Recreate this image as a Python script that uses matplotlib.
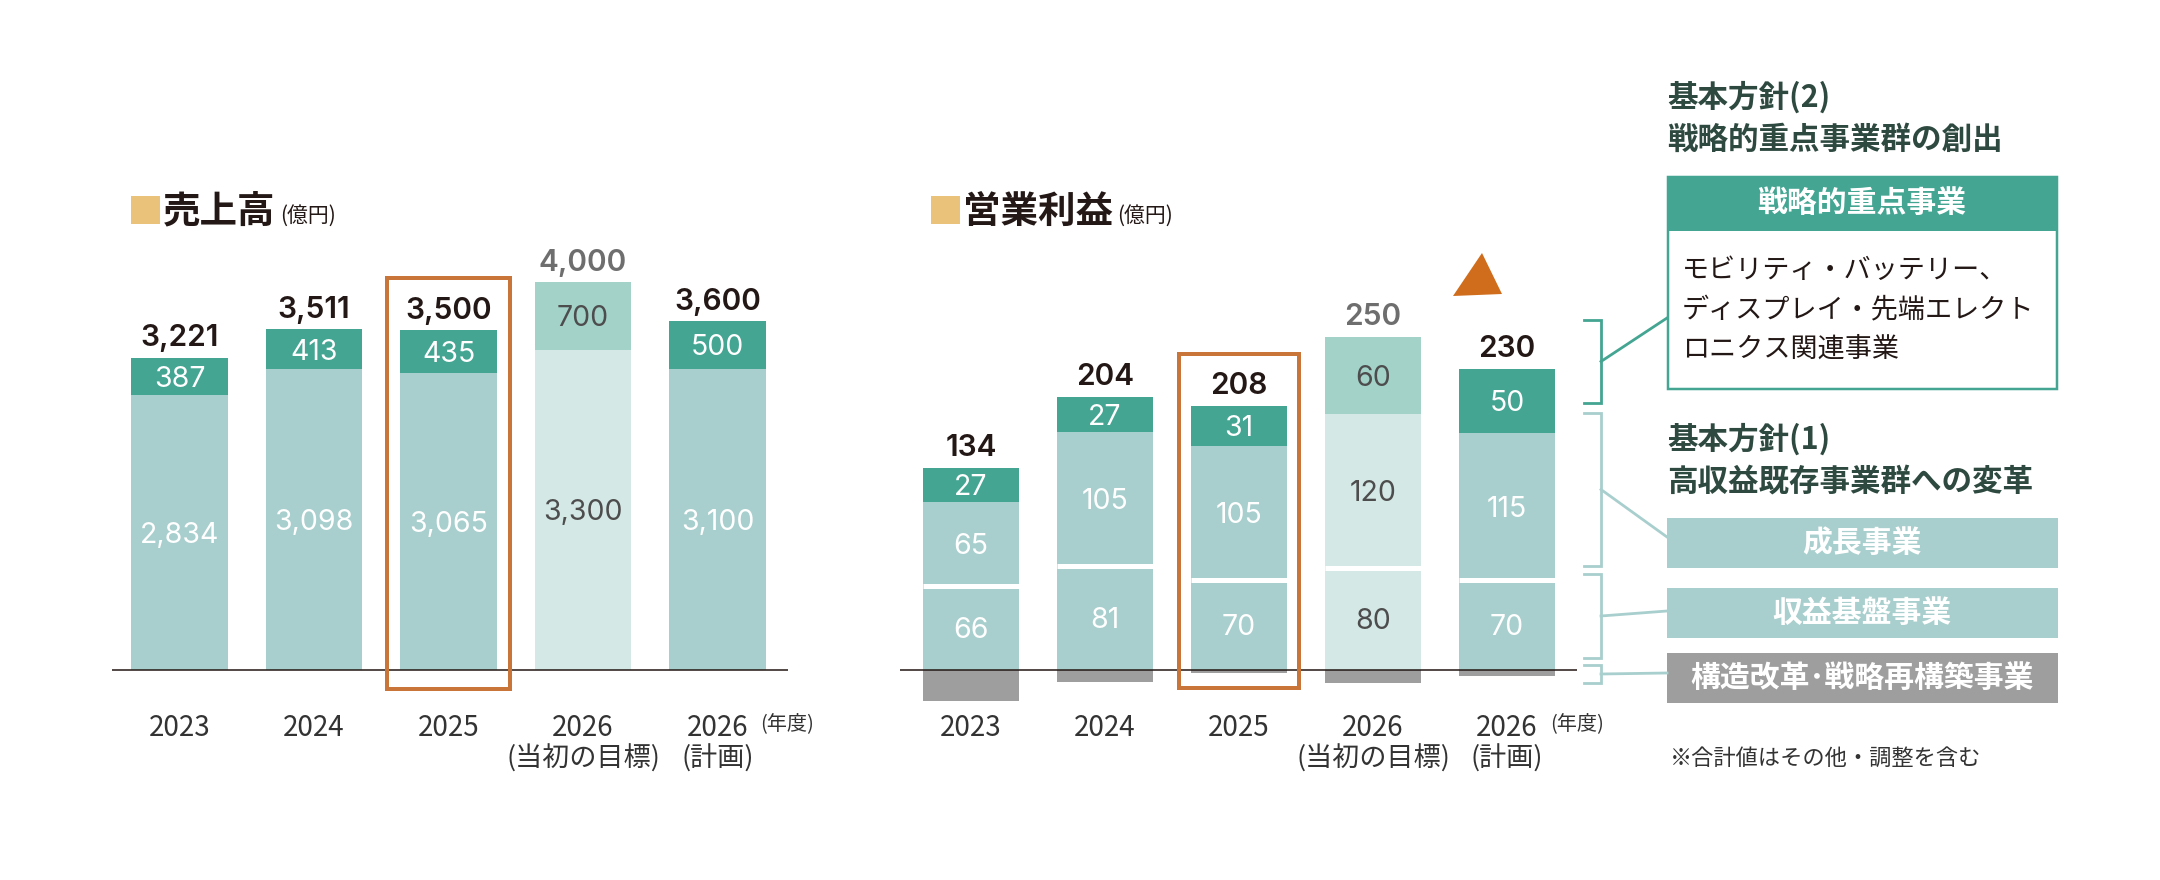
import matplotlib
matplotlib.use('Agg')
import matplotlib.pyplot as plt
from matplotlib.patches import Rectangle, Polygon

plt.rcParams['font.family'] = ['Inter', 'Noto Sans CJK JP', 'DejaVu Sans']
JP = ['Noto Sans CJK JP', 'DejaVu Sans']

# ---- data ----
years = ['2023', '2024', '2025', '2026', '2026']
year_notes = ['', '', '', '(当初の目標)', '(計画)']

sales_existing = [2834, 3098, 3065, 3300, 3100]
sales_focus = [387, 413, 435, 700, 500]
sales_total = [3221, 3511, 3500, 4000, 3600]

op_base = [66, 81, 70, 80, 70]          # 収益基盤事業
op_growth = [65, 105, 105, 120, 115]    # 成長事業
op_focus = [27, 27, 31, 60, 50]         # 戦略的重点事業
op_other = [-24, -9, -2, -10, -5]       # 構造改革・その他
op_total = [134, 204, 208, 250, 230]

target_idx = 3    # 当初の目標 (pale bars)
current_idx = 2   # 2025 highlighted

strategy2_lines = ['モビリティ・バッテリー、', 'ディスプレイ・先端エレクト', 'ロニクス関連事業']
segment_boxes = ['成長事業', '収益基盤事業', '構造改革･戦略再構築事業']

# ---- style ----
TEAL = '#43a592'
LIGHT = '#a8cfcd'
PALE = '#d4e8e5'
PALE_TOP = '#a3d2c9'
GRAY = '#9e9e9e'
ORANGE = '#c97539'
DARK = '#231815'
MIDGRAY = '#4d4d4d'
HEAD = '#2e4a40'

W, H = 2160, 880
BASE_Y = 670          # baseline, pixels from top
PT = 0.72             # px -> pt at dpi 100

fig = plt.figure(figsize=(W / 100, H / 100), dpi=100)

ov = fig.add_axes([0, 0, 1, 1])
ov.set_xlim(0, W)
ov.set_ylim(H, 0)
ov.axis('off')


def make_ax(x0, x1, first_center, step, ppu):
    ax = fig.add_axes([x0 / W, 0, (x1 - x0) / W, 1])
    left = -(first_center - x0) / step
    ax.set_xlim(left, left + (x1 - x0) / step)
    ax.set_ylim(-(H - BASE_Y) / ppu, BASE_Y / ppu)
    ax.axis('off')
    ax.axhline(0, color=DARK, lw=1.1, zorder=5)
    return ax


def label(ax, x, y, s, size, color, dy_px=0, weight='normal', family=None, cap=0.36):
    kw = {'family': family} if family else {}
    return ax.annotate(s, (x, y), xytext=(0, dy_px * PT - cap * size), textcoords='offset points',
                       ha='center', va='baseline', fontsize=size, color=color,
                       fontweight=weight, annotation_clip=False, **kw)


def year_labels(ax, ppu):
    x = range(len(years))
    last = None
    for i in x:
        last = label(ax, i, (BASE_Y - 726) / ppu, years[i], 20, '#333333', family=JP, cap=0.37)
        if year_notes[i]:
            ax.text(i, (BASE_Y - 759) / ppu, year_notes[i], ha='center', va='center',
                    fontsize=19.5, color='#333333', family=JP)
    ax.annotate('(年度)', xy=(1, 0.5), xycoords=last, xytext=(12 * PT, 5 * PT),
                textcoords='offset points', ha='left', va='center', fontsize=14.5,
                color='#333333', family=JP)


def highlight(ax, ppu, top_px, bot_px, half):
    ax.add_patch(Rectangle((current_idx - half, (BASE_Y - bot_px) / ppu), 2 * half,
                           (bot_px - top_px) / ppu, fill=False, edgecolor=ORANGE,
                           lw=4 * PT, zorder=6, clip_on=False))


# ---- 売上高 ----
ppu_s = 0.097
ax1 = make_ax(112, 788, 179.5, 134.5, ppu_s)
x = list(range(len(years)))
bw = 0.72
c_low = [PALE if i == target_idx else LIGHT for i in x]
c_top = [PALE_TOP if i == target_idx else TEAL for i in x]
ax1.bar(x, sales_existing, width=bw, color=c_low, zorder=2)
ax1.bar(x, sales_focus, width=bw, bottom=sales_existing, color=c_top, zorder=2)
for i in x:
    tc = MIDGRAY if i == target_idx else 'white'
    label(ax1, i, sales_existing[i] / 2, f'{sales_existing[i]:,}', 20.5, tc)
    label(ax1, i, sales_existing[i] + sales_focus[i] / 2, f'{sales_focus[i]:,}', 20.5, tc)
    label(ax1, i, sales_existing[i] + sales_focus[i], f'{sales_total[i]:,}', 21.5,
          '#6e6e6e' if i == target_idx else DARK, dy_px=22, weight='semibold')
year_labels(ax1, ppu_s)
highlight(ax1, ppu_s, 278, 689, 0.457)

# ---- 営業利益 ----
ppu_o = 1.28
ax2 = make_ax(900, 1577, 971, 134, ppu_o)
bw2 = 0.716
low2 = [PALE if i == target_idx else LIGHT for i in x]
ax2.bar(x, op_other, width=bw2, color=GRAY, zorder=2)
ax2.bar(x, op_base, width=bw2, color=low2, zorder=2)
mid_bottom = op_base
ax2.bar(x, op_growth, width=bw2, bottom=mid_bottom, color=low2, zorder=2)
top_bottom = [a + b for a, b in zip(op_base, op_growth)]
ax2.bar(x, op_focus, width=bw2, bottom=top_bottom, color=c_top, zorder=2)
# white separation between 収益基盤 and 成長
ax2.hlines(mid_bottom, [i - bw2 / 2 for i in x], [i + bw2 / 2 for i in x],
           color='white', lw=5 * PT, zorder=3)
for i in x:
    tc = MIDGRAY if i == target_idx else 'white'
    label(ax2, i, op_base[i] / 2, str(op_base[i]), 20.5, tc)
    label(ax2, i, op_base[i] + op_growth[i] / 2, str(op_growth[i]), 20.5, tc)
    label(ax2, i, top_bottom[i] + op_focus[i] / 2, str(op_focus[i]), 20.5, tc)
    label(ax2, i, top_bottom[i] + op_focus[i], str(op_total[i]), 21.5,
          '#6e6e6e' if i == target_idx else DARK, dy_px=23, weight='semibold')
year_labels(ax2, ppu_o)
highlight(ax2, ppu_o, 354, 688, 0.451)

# ---- titles ----
for sx, title in [(131, '売上高'), (931, '営業利益')]:
    ov.add_patch(Rectangle((sx, 196), 29, 28, color='#ebc27a', lw=0))
    t = ov.text(sx + 32, 211, title, fontsize=27, fontweight='bold', color=DARK,
                family=JP, va='center', ha='left')
    ov.annotate('(億円)', xy=(1, 0.38), xycoords=t, xytext=(3, 0), textcoords='offset points',
                fontsize=15, color=DARK, family=JP, va='center', ha='left')

# up arrow triangle
ov.add_patch(Polygon([(1453, 296), (1482, 253), (1502, 294)], closed=True, color='#d06d1c', lw=0))

# ---- brackets and connectors ----
brackets = [(320, 403, TEAL, 318), (413, 566, LIGHT, 537),
            (574, 658, LIGHT, 611), (665, 683, LIGHT, 673)]
for top, bot, c, ty in brackets:
    ov.plot([1584, 1601, 1601, 1584], [top, top, bot, bot], color=c, lw=2.0,
            solid_joinstyle='miter')
    ov.plot([1601, 1667], [(top + bot) / 2, ty], color=c, lw=2.0)

# ---- right-hand legend panel ----
ov.text(1667, 97, '基本方針(2)', fontsize=22, fontweight='bold', color=HEAD, family=JP, va='center')
ov.text(1667, 140, '戦略的重点事業群の創出', fontsize=22, fontweight='bold', color=HEAD,
        family=JP, va='center')
ov.add_patch(Rectangle((1668, 177), 389, 212, facecolor='white', edgecolor=TEAL, lw=2.5 * PT))
ov.add_patch(Rectangle((1667, 176), 391, 55, color=TEAL, lw=0))
ov.text(1862, 203, '戦略的重点事業', fontsize=21.5, fontweight='bold', color='white',
        family=JP, ha='center', va='center')
for k, line in enumerate(strategy2_lines):
    ov.text(1682, 270 + 39.5 * k, line, fontsize=19.5, color=DARK, family=JP, va='center')

ov.text(1667, 439, '基本方針(1)', fontsize=22, fontweight='bold', color=HEAD, family=JP, va='center')
ov.text(1667, 482, '高収益既存事業群への変革', fontsize=22, fontweight='bold', color=HEAD,
        family=JP, va='center')
for top, name, col in zip([518, 588, 653], segment_boxes, [LIGHT, LIGHT, GRAY]):
    ov.add_patch(Rectangle((1667, top), 391, 50, color=col, lw=0))
    ov.text(1862, top + 25, name, fontsize=21.5, fontweight='bold', color='white',
            family=JP, ha='center', va='center')

ov.text(1670, 758, '※合計値はその他・調整を含む', fontsize=16, color='#333333', family=JP, va='center')

fig.savefig('out.png', dpi=100)
